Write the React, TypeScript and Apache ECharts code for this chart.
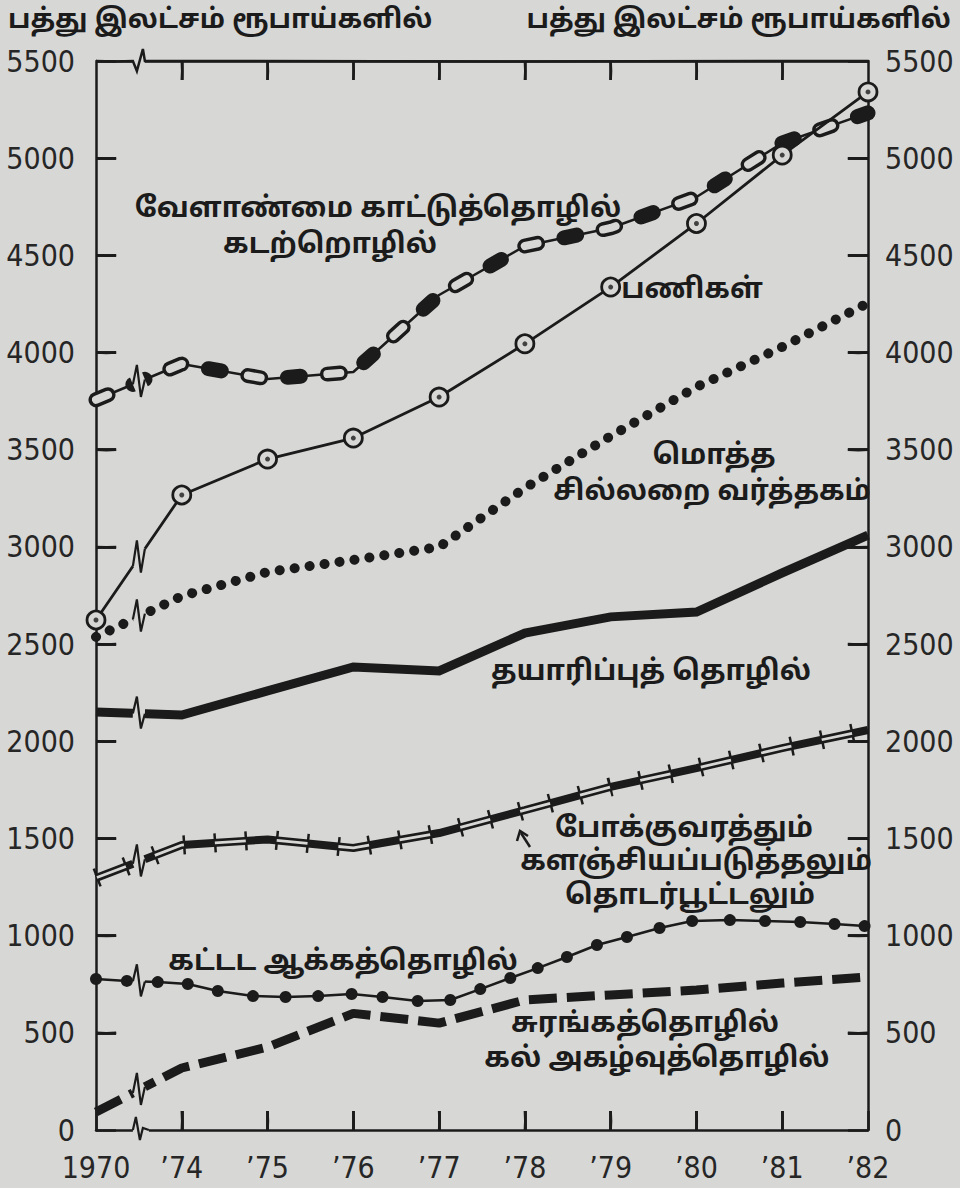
import React, { useEffect, useRef } from 'react';
import * as echarts from 'echarts';

// ---- data ----
const xLabels = ['1970', '’74', '’75', '’76', '’77', '’78', '’79', '’80', '’81', '’82'];
const yMax = 5500;
const yStep = 500;
const agriculture = [3757, 3941, 3864, 3900, 4296, 4548, 4641, 4800, 5078, 5233];
const services = [2624, 3267, 3452, 3560, 3771, 4045, 4337, 4664, 5016, 5341];
const retail = [2537, 2747, 2871, 2933, 3000, 3303, 3570, 3823, 4029, 4255];
const manufacturing = [2150, 2135, 2259, 2382, 2362, 2557, 2640, 2665, 2866, 3061];
const transport = [1297, 1466, 1495, 1451, 1528, 1646, 1765, 1862, 1965, 2058];
const mining = [93, 319, 427, 600, 550, 669, 695, 720, 756, 787];
const constructionX = [0, 0.36, 0.72, 1.07, 1.42, 1.83, 2.21, 2.59, 2.98, 3.34, 3.75, 4.13, 4.48, 4.83, 5.15, 5.49, 5.84, 6.19, 6.57, 6.95, 7.39, 7.8, 8.21, 8.61, 8.96];
const constructionY = [777, 767, 761, 751, 715, 689, 684, 689, 700, 684, 664, 669, 725, 782, 833, 890, 952, 993, 1039, 1075, 1080, 1075, 1070, 1060, 1049];

const unitTitle = 'பத்து இலட்சம் ரூபாய்களில்';
const seriesTexts = [
  { t: 'வேளாண்மை காட்டுத்தொழில்', x: 378, y: 210 },
  { t: 'கடற்றொழில்', x: 330, y: 246 },
  { t: 'பணிகள்', x: 692, y: 291 },
  { t: 'மொத்த', x: 714, y: 457 },
  { t: 'சில்லறை வர்த்தகம்', x: 712, y: 493 },
  { t: 'தயாரிப்புத் தொழில்', x: 651, y: 673 },
  { t: 'போக்குவரத்தும்', x: 684, y: 830 },
  { t: 'களஞ்சியப்படுத்தலும்', x: 696, y: 863 },
  { t: 'தொடர்பூட்டலும்', x: 690, y: 897 },
  { t: 'கட்டட ஆக்கத்தொழில்', x: 343, y: 963 },
  { t: 'சுரங்கத்தொழில்', x: 645, y: 1025 },
  { t: 'கல் அகழ்வுத்தொழில்', x: 657, y: 1060 },
];

const INK = '#1b1b1b';
const BG = '#d7d7d5';
const TAMIL = "'Noto Sans Tamil', 'Lohit Tamil', 'Latha', 'Noto Sans', sans-serif";
const NUM = "'DejaVu Sans Condensed', 'DejaVu Sans', sans-serif";
const GRID = { left: 96, right: 92, top: 61, bottom: 58 };

const pairs = (vals: number[]) => vals.map((v, i) => [i, v]);
const constructionPairs = constructionX.map((x, i) => [x, constructionY[i]]);

function yAt(data: number[][], x: number) {
  for (let i = 0; i < data.length - 1; i++) {
    const a = data[i], b = data[i + 1];
    if (x >= a[0] && x <= b[0]) {
      return a[1] + ((b[1] - a[1]) * (x - a[0])) / (b[0] - a[0]);
    }
  }
  return data[0][1];
}

// frame ticks in axis units (length ~19-20 px)
const xLast = xLabels.length - 1;
const tickLenY = 98; // value units ≈ 19 px
const tickLenX = 0.235; // category units ≈ 20 px
const frameSegments: number[][][] = [];
for (let i = 1; i < xLast; i++) {
  frameSegments.push([[i, yMax], [i, yMax - tickLenY]]);
  frameSegments.push([[i, 0], [i, tickLenY]]);
}
for (let v = yStep; v < yMax; v += yStep) {
  frameSegments.push([[0, v], [tickLenX, v]]);
  frameSegments.push([[xLast, v], [xLast - tickLenX, v]]);
}

export default function App() {
  const ref = useRef<HTMLDivElement>(null);
  useEffect(() => {
    if (!ref.current) return;
    const chart = echarts.init(ref.current, null, { renderer: 'svg' });
    const xAxisCommon = {
      type: 'value',
      min: 0,
      max: xLast,
      interval: 1,
      splitLine: { show: false },
      axisLine: { show: true, onZero: false, lineStyle: { color: INK, width: 2.5 } },
      axisTick: { show: true, inside: true, length: 19, lineStyle: { color: INK, width: 2.5 } },
    };
    const yAxisCommon = {
      type: 'value',
      min: 0,
      max: yMax,
      interval: yStep,
      splitLine: { show: false },
      axisLine: { show: true, onZero: false, lineStyle: { color: INK, width: 2.5 } },
      axisTick: { show: true, inside: true, length: 20, lineStyle: { color: INK, width: 2.5 } },
    };
    const option: any = {
      animation: false,
      backgroundColor: BG,
      grid: { ...GRID, containLabel: false, outerBoundsMode: 'none' },
      xAxis: [
        {
          ...xAxisCommon,
          position: 'bottom',
          axisLabel: {
            formatter: (v: number) => xLabels[Math.round(v)] ?? '',
            fontFamily: NUM,
            fontSize: 30,
            color: '#262626',
            margin: 22,
          },
        },
      ],
      yAxis: [
        {
          ...yAxisCommon,
          position: 'left',
          axisLabel: { formatter: (v: number) => String(v), fontFamily: NUM, fontSize: 30, color: '#262626', margin: 21 },
        },
        {
          ...yAxisCommon,
          position: 'right',
          axisLabel: { formatter: (v: number) => String(v), fontFamily: NUM, fontSize: 30, color: '#262626', margin: 17 },
        },
      ],
      series: [
        // frame: top border and inward ticks, drawn as a lines series
        {
          type: 'lines', coordinateSystem: 'cartesian2d', polyline: false, silent: true, z: 6,
          lineStyle: { color: INK, width: 2.5, opacity: 1, curveness: 0 },
          data: [
            { coords: [[0, yMax], [0.43, yMax]] },
            { coords: [[0.57, yMax], [xLast, yMax]] },
            ...frameSegments.map((c) => ({ coords: c })),
          ],
        },
        // agriculture, forestry, fishing: chain line
        { type: 'line', data: pairs(agriculture), symbol: 'none', lineStyle: { color: INK, width: 2.5 }, z: 3 },
        { type: 'line', data: pairs(agriculture), symbol: 'none', lineStyle: { color: INK, width: 15, type: [13, 27], cap: 'round' }, z: 3 },
        { type: 'line', data: pairs(agriculture), symbol: 'none', lineStyle: { color: BG, width: 8, type: [13, 67], cap: 'round' }, z: 3 },
        // services
        {
          type: 'line', data: pairs(services), symbol: 'circle', symbolSize: 18,
          lineStyle: { color: INK, width: 2.8 },
          itemStyle: { color: BG, borderColor: INK, borderWidth: 2.8 }, z: 4,
        },
        { type: 'scatter', data: pairs(services), symbol: 'circle', symbolSize: 5, itemStyle: { color: INK }, z: 5 },
        // retail: dotted
        { type: 'line', data: pairs(retail), symbol: 'none', lineStyle: { color: INK, width: 10, type: [0.1, 15], cap: 'round' }, z: 3 },
        // manufacturing: thick solid
        { type: 'line', data: pairs(manufacturing), symbol: 'none', lineStyle: { color: INK, width: 9, join: 'miter' }, z: 3 },
        // transport: double line with ticks
        { type: 'line', data: pairs(transport), symbol: 'none', lineStyle: { color: INK, width: 19, type: [2.5, 28.5], cap: 'butt' }, z: 3 },
        { type: 'line', data: pairs(transport), symbol: 'none', lineStyle: { color: INK, width: 8 }, z: 3 },
        { type: 'line', data: pairs(transport), symbol: 'none', lineStyle: { color: BG, width: 2.8, type: [31, 31], dashOffset: -1.5 }, z: 3 },
        // construction
        {
          type: 'line', data: constructionPairs, symbol: 'circle', symbolSize: 12,
          lineStyle: { color: INK, width: 2.5 }, itemStyle: { color: INK }, z: 3,
        },
        // mining, quarrying
        { type: 'line', data: pairs(mining), symbol: 'none', lineStyle: { color: INK, width: 9, type: [28, 10], cap: 'butt' }, z: 3 },
      ],
    };
    chart.setOption(option);

    const toPx = (x: number, y: number) => chart.convertToPixel({ xAxisIndex: 0, yAxisIndex: 0 }, [x, y]) as number[];
    const q1 = toPx(0.25, 1250), q2 = toPx(0.75, 3750);
    let sx = (q2[0] - q1[0]) / 0.5, ox = q1[0] - 0.25 * sx;
    let sy = (q2[1] - q1[1]) / 2500, oy = q1[1] - 1250 * sy;
    if (![sx, ox, sy, oy].every((n) => Number.isFinite(n))) {
      const w = 960 - GRID.left - GRID.right, h = 1188 - GRID.top - GRID.bottom;
      sx = w / xLast; ox = GRID.left;
      sy = -h / yMax; oy = GRID.top + h;
    }
    const P = (x: number, y: number) => [ox + sx * x, oy + sy * y];
    const pl = (points: number[][], z = 30, w = 2.5) => ({
      type: 'polyline', z, shape: { points }, style: { stroke: INK, lineWidth: w, fill: null, lineCap: 'butt' },
    });

    const graphics: any[] = [];
    graphics.push({
      type: 'text', left: 8, top: 8,
      style: { text: unitTitle, font: `bold 27px ${TAMIL}`, fill: INK },
    });
    graphics.push({
      type: 'text', right: 9, top: 8,
      style: { text: unitTitle, font: `bold 27px ${TAMIL}`, fill: INK },
    });
    seriesTexts.forEach((s) => {
      graphics.push({
        type: 'text', x: s.x, y: s.y, z: 10,
        style: { text: s.t, font: `bold 28px ${TAMIL}`, fill: INK, align: 'center', verticalAlign: 'middle' },
      });
    });
    // arrow for transport label
    graphics.push(pl([[530, 847], [521, 833]], 10));
    graphics.push(pl([[517, 841], [520, 831], [528, 836]], 10));

    const breakSeries: { data: number[][]; w: number }[] = [
      { data: pairs(agriculture), w: 18 },
      { data: pairs(services), w: 5 },
      { data: pairs(retail), w: 12 },
      { data: pairs(manufacturing), w: 11 },
      { data: pairs(transport), w: 12 },
      { data: constructionPairs, w: 5 },
      { data: pairs(mining), w: 11 },
    ];
    breakSeries.forEach((b) => {
      const pa = P(0.43, yAt(b.data, 0.43));
      const pb = P(0.57, yAt(b.data, 0.57));
      const pm = P(0.5, yAt(b.data, 0.5));
      graphics.push({ type: 'line', z: 8, shape: { x1: pa[0], y1: pa[1], x2: pb[0], y2: pb[1] }, style: { stroke: BG, lineWidth: b.w } });
      graphics.push(pl([[pa[0], pa[1]], [pm[0] - 2, pm[1] - 17], [pm[0] + 2, pm[1] + 15], [pb[0], pb[1]]], 9, 2.2));
    });

    // frame drawn again as slightly bent polylines (non-zero extent in both directions)
    const top0 = P(0.43, yMax), top1 = P(0.57, yMax);
    const tl = P(0, yMax), tr = P(xLast, yMax);
    const mid = (a: number[], b: number[]) => [(a[0] + b[0]) / 2 + 0.4, (a[1] + b[1]) / 2 + 0.4];
    graphics.push(pl([[tl[0], tl[1]], mid(tl, top0), [top0[0], top0[1]], [top0[0] + 4, top0[1] + 10], [top0[0] + 10, top0[1] - 12], [top1[0], top1[1]], mid(top1, tr), [tr[0], tr[1]]], 30, 2.5));
    const bot0 = P(0.43, 0), bot1 = P(0.57, 0);
    graphics.push({ type: 'line', z: 29, shape: { x1: bot0[0], y1: bot0[1], x2: bot1[0] + 4, y2: bot1[1] }, style: { stroke: BG, lineWidth: 5 } });
    graphics.push(pl([[bot0[0], bot0[1]], [bot0[0] + 3, bot0[1] - 13], [bot0[0] + 7, bot0[1] + 10], [bot0[0] + 10, bot0[1] - 2], [bot1[0] + 4, bot1[1]]], 30, 2.2));
    frameSegments.forEach((seg) => {
      const a = P(seg[0][0], seg[0][1]);
      const b = P(seg[1][0], seg[1][1]);
      graphics.push(pl([a, mid(a, b), b]));
    });
    chart.setOption({ graphic: graphics });

    return () => chart.dispose();
  }, []);
  return <div ref={ref} style={{ position: 'fixed', left: 0, top: 0, width: 960, height: 1188 }} />;
}
